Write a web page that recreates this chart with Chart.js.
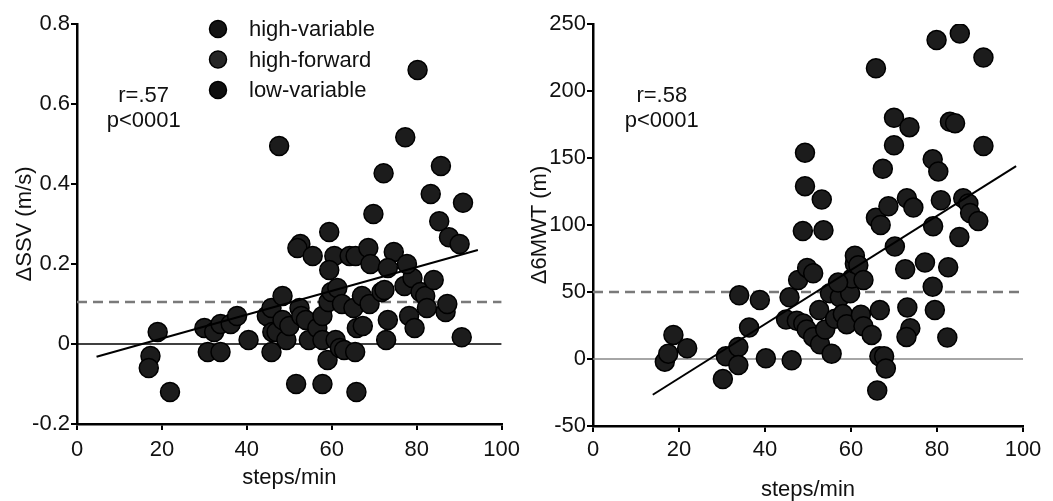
<!DOCTYPE html>
<html>
<head>
<meta charset="utf-8">
<script src="https://cdn.jsdelivr.net/npm/chart.js@4"></script>
<style>
    html, body { margin: 0; padding: 0; background: #fff; }
    .panel { position: absolute; top: 0; height: 501px; }
    #leftPanel { left: 0; width: 527px; }
    #rightPanel { left: 527px; width: 526px; }
</style>
</head>
<body>
<div class="panel" id="leftPanel"><canvas id="ssvChart"></canvas></div>
<div class="panel" id="rightPanel"><canvas id="mwtChart"></canvas></div>
<script>
// group names shown in the legend
const groups = ['high-variable', 'high-forward', 'low-variable'];
const groupColors = ['#141414', '#262626', '#0f0f0f'];

// shared x ticks (steps/min)
const stepTicks = [0, 20, 40, 60, 80, 100];

// left panel: change in self-selected velocity
const ssvSteps = [17.3, 16.9, 19.0, 21.9, 30.0, 30.8, 32.3, 33.8, 33.8, 36.2,
    37.7, 40.4, 44.7, 45.8, 45.8, 46.0, 47.0, 48.4, 48.4, 49.3,
    50.0, 51.6, 52.4, 52.8, 53.9, 54.6, 56.6, 57.8, 57.8, 57.8,
    59.0, 59.2, 59.9, 61.3, 60.9, 62.4, 61.9, 62.9, 65.1, 65.5,
    65.8, 65.9, 67.3, 67.1, 68.9, 71.7, 72.4, 72.8, 73.2, 77.1,
    78.2, 79.0, 79.5, 80.9, 82.0, 82.4, 84.0, 86.8, 87.2, 90.6,
    59.4, 52.6, 51.9, 55.5, 60.6, 64.2, 65.6, 68.6, 69.1, 74.6,
    59.4, 73.2, 77.7, 69.8, 85.3, 87.6, 90.1, 83.3, 90.9, 72.2,
    85.7, 47.6, 77.3, 80.2];
const ssvDelta = [-0.03, -0.06, 0.03, -0.12, 0.04, -0.02, 0.03, 0.05, -0.02, 0.05,
    0.07, 0.01, 0.07, -0.02, 0.09, 0.03, 0.03, 0.12, 0.06, 0.01,
    0.045, -0.10, 0.09, 0.07, 0.06, 0.01, 0.04, 0.07, 0.01, -0.10,
    -0.04, 0.105, 0.13, 0.14, 0.01, 0.10, -0.01, -0.015, 0.09, -0.02,
    -0.12, 0.04, 0.045, 0.12, 0.10, 0.13, 0.135, 0.01, 0.06, 0.145,
    0.07, 0.165, 0.04, 0.13, 0.12, 0.09, 0.16, 0.08, 0.10, 0.017,
    0.28, 0.25, 0.24, 0.22, 0.22, 0.22, 0.22, 0.24, 0.20, 0.23,
    0.185, 0.19, 0.20, 0.325, 0.307, 0.267, 0.25, 0.375, 0.353, 0.427,
    0.445, 0.495, 0.517, 0.685];
const ssvFitX = [4.6, 94.4];
const ssvFitY = [-0.032, 0.235];
const ssvRef = 0.105;
const ssvTicks = [-0.2, 0, 0.2, 0.4, 0.6, 0.8];
const ssvStats = ['r=.57', 'p<0001'];

// right panel: change in 6-minute walk distance
const mwtSteps = [16.7, 17.5, 18.7, 21.9, 30.9, 30.2, 33.8, 33.8, 34.0, 36.3,
    38.8, 40.2, 45.7, 46.2, 44.9, 47.7, 49.8, 51.2, 47.4, 48.9,
    49.7, 51.2, 52.8, 52.6, 54.0, 55.5, 55.1, 57.4, 56.3, 58.1,
    59.0, 59.8, 60.2, 60.9, 60.9, 61.7, 62.9, 62.3, 62.9, 64.8,
    66.7, 66.6, 67.7, 68.1, 66.1, 72.6, 73.1, 73.8, 72.9, 77.2,
    79.0, 79.5, 82.6, 82.4, 85.3, 79.9, 90.8, 65.8, 70.0, 73.6,
    83.0, 84.2, 70.0, 90.8, 49.3, 67.4, 79.0, 80.3, 49.3, 53.2,
    48.8, 53.6, 65.8, 66.9, 68.7, 73.0, 74.5, 80.9, 79.1, 86.1,
    87.3, 87.7, 89.6, 85.2, 70.2, 57.0];
const mwtDelta = [-2, 4, 18, 8, 2, -15, 9, -4.5, 47.5, 23.5,
    44, 0.5, 46, -1, 29.5, 59, 68, 64, 28.5, 26.5,
    22, 16.5, 11, 36.5, 22, 4, 49, 46, 30, 33.5,
    26, 49, 60, 71, 77, 70, 59, 33, 24.5, 18,
    36.5, 2, 2, -7, -23.5, 67, 38.5, 23, 16.5, 72,
    54, 36.5, 68.5, 16, 243, 238, 225, 217, 180, 173,
    177, 176, 159.5, 159, 154, 142, 149, 140, 129, 119,
    95.5, 96, 105.5, 100, 114, 120, 113, 118.5, 99, 120,
    116, 109, 103, 91, 84, 57];
const mwtFitX = [13.9, 98.4];
const mwtFitY = [-26.7, 144];
const mwtRef = 50;
const mwtTicks = [-50, 0, 50, 100, 150, 200, 250];
const mwtStats = ['r=.58', 'p<0001'];

const FONT = "'Liberation Sans', Arial, Helvetica, sans-serif";

function toPoints(xs, ys) {
    return xs.map((x, i) => ({ x: x, y: ys[i] }));
}

// text overlays: r/p statistics and (left panel only) the group legend
const overlayPlugin = {
    id: 'overlay',
    afterDatasetsDraw(chart, args, opts) {
        const ctx = chart.ctx;
        const xs = chart.scales.x, ys = chart.scales.y;
        ctx.save();
        ctx.fillStyle = '#111';
        ctx.font = '22px ' + FONT;
        ctx.textAlign = 'center';
        ctx.textBaseline = 'middle';
        const sx = xs.getPixelForValue(opts.statsAt[0]);
        const sy = ys.getPixelForValue(opts.statsAt[1]);
        opts.stats.forEach((t, i) => ctx.fillText(t, sx, sy + i * 25));

        if (opts.legend) {
            const lx = chart.chartArea.left + 141;
            const ly = chart.chartArea.top + 5;
            ctx.textAlign = 'left';
            groups.forEach((g, i) => {
                const cy = ly + i * 30.5;
                ctx.beginPath();
                ctx.arc(lx, cy, 8.5, 0, Math.PI * 2);
                ctx.fillStyle = groupColors[i];
                ctx.fill();
                ctx.lineWidth = 1.5;
                ctx.strokeStyle = '#000';
                ctx.stroke();
                ctx.fillStyle = '#111';
                ctx.fillText(g, lx + 31, cy + 1);
            });
        }
        ctx.restore();
    }
};

function makeChart(id, cfg) {
    const ctx = document.getElementById(id);
    return new Chart(ctx.getContext('2d'), {
        type: 'scatter',
        data: {
            datasets: [
                {
                    // regression line, on top
                    type: 'line',
                    data: toPoints(cfg.fitX, cfg.fitY),
                    borderColor: '#000',
                    borderWidth: 2,
                    pointRadius: 0,
                    fill: false
                },
                {
                    data: toPoints(cfg.steps, cfg.delta),
                    backgroundColor: '#1c1c1c',
                    borderColor: '#000',
                    borderWidth: 1.5,
                    pointRadius: 9.5,
                    pointHoverRadius: 9.5
                },
                {
                    // reference (minimal important change)
                    type: 'line',
                    data: toPoints([0, 100], [cfg.ref, cfg.ref]),
                    borderColor: '#7a7a7a',
                    borderWidth: 2.5,
                    borderDash: [10, 6],
                    pointRadius: 0,
                    fill: false
                },
                {
                    // zero line
                    type: 'line',
                    data: toPoints([0, 100], [0, 0]),
                    borderColor: cfg.zeroColor,
                    borderWidth: 1.5,
                    pointRadius: 0,
                    fill: false
                }
            ]
        },
        options: {
            responsive: true,
            maintainAspectRatio: false,
            animation: false,
            events: [],
            layout: { padding: { top: 24, right: cfg.padRight, left: 0, bottom: 0 } },
            scales: {
                x: {
                    type: 'linear',
                    min: 0,
                    max: 100,
                    afterBuildTicks: s => { s.ticks = stepTicks.map(v => ({ value: v })); },
                    afterFit: s => { s.height = cfg.xHeight; },
                    border: { display: true, color: '#000', width: 2.5 },
                    grid: { display: true, drawOnChartArea: false, drawTicks: true, tickLength: 6, color: '#000', lineWidth: 2 },
                    ticks: { color: '#111', font: { family: FONT, size: 22 }, padding: cfg.xTickPad, maxRotation: 0 },
                    title: {
                        display: true,
                        text: 'steps/min',
                        color: '#111',
                        font: { family: FONT, size: 22, lineHeight: 1 },
                        padding: { top: 0, bottom: cfg.xTitlePad }
                    }
                },
                y: {
                    type: 'linear',
                    min: cfg.yTicks[0],
                    max: cfg.yTicks[cfg.yTicks.length - 1],
                    afterBuildTicks: s => { s.ticks = cfg.yTicks.map(v => ({ value: v })); },
                    afterFit: s => { s.width = cfg.yWidth; },
                    border: { display: true, color: '#000', width: 2.5 },
                    grid: { display: true, drawOnChartArea: false, drawTicks: true, tickLength: 6, color: '#000', lineWidth: 2 },
                    ticks: {
                        color: '#111',
                        font: { family: FONT, size: 22 },
                        padding: 1,
                        callback: v => String(Math.round(v * 10) / 10)
                    },
                    title: {
                        display: true,
                        text: cfg.yTitle,
                        color: '#111',
                        font: { family: FONT, size: 22, lineHeight: 1 },
                        padding: { top: cfg.yTitlePad, bottom: 0 }
                    }
                }
            },
            plugins: {
                legend: { display: false },
                tooltip: { enabled: false },
                overlay: { stats: cfg.stats, statsAt: cfg.statsAt, legend: cfg.legend }
            }
        },
        plugins: [overlayPlugin]
    });
}

document.addEventListener('DOMContentLoaded', function() {
    makeChart('ssvChart', {
        steps: ssvSteps, delta: ssvDelta, fitX: ssvFitX, fitY: ssvFitY,
        ref: ssvRef, yTicks: ssvTicks, yTitle: '\u0394SSV (m/s)',
        zeroColor: '#000', stats: ssvStats, statsAt: [15.7, 0.62], legend: true,
        padRight: 18, yWidth: 77, xHeight: 77, xTickPad: 7, xTitlePad: 12, yTitlePad: 14
    });
    makeChart('mwtChart', {
        steps: mwtSteps, delta: mwtDelta, fitX: mwtFitX, fitY: mwtFitY,
        ref: mwtRef, yTicks: mwtTicks, yTitle: '\u03946MWT (m)',
        zeroColor: '#888', stats: mwtStats, statsAt: [16, 196], legend: false,
        padRight: 30, yWidth: 66, xHeight: 75, xTickPad: 5, xTitlePad: 0, yTitlePad: 2
    });
});
</script>
</body>
</html>
